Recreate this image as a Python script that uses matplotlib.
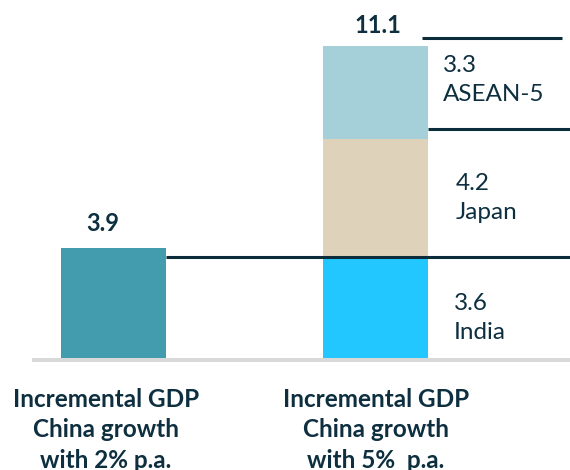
import matplotlib.pyplot as plt

plt.rcParams['font.family'] = ['Lato', 'DejaVu Sans']

# data
categories = ["Incremental GDP\nChina growth\nwith 2% p.a.",
              "Incremental GDP\nChina growth\nwith 5%  p.a."]
left_total = 3.9
regions = ["India", "Japan", "ASEAN-5"]
region_values = [3.6, 4.2, 3.3]
right_total = 11.1
separator_levels = [3.6, 8.15, 11.4]

teal = "#429cae"
region_colors = ["#22c7ff", "#dfd2bb", "#a5d0da"]
navy = "#0b2d3b"
text_col = "#0d2f3f"

fig = plt.figure(figsize=(5.7, 4.7), dpi=100)
ax = fig.add_axes([0, 0, 1, 1])
ax.set_xlim(-0.433, 1.742)
ax.set_ylim(-3.99, 12.74)
ax.axis("off")

w = 0.4
ax.bar(0, left_total, width=w, color=teal, zorder=2)

bottom = 0
for val, col in zip(region_values, region_colors):
    ax.bar(1, val, bottom=bottom, width=w, color=col, zorder=2)
    bottom += val

# baseline
ax.plot([-0.311, 1.742], [-0.07, -0.07], color="#d9d9d9", lw=2.9,
        solid_capstyle="butt", zorder=1)

# separator lines
ax.plot([w / 2, 1.742], [separator_levels[0]] * 2, color=navy, lw=2.2,
        solid_capstyle="butt", zorder=3)
ax.plot([1 + w / 2, 1.742], [separator_levels[1]] * 2, color=navy, lw=2.2,
        solid_capstyle="butt", zorder=3)
ax.plot([1.177, 1.712], [separator_levels[2]] * 2, color=navy, lw=2.2,
        solid_capstyle="butt", zorder=3)

# totals
ax.text(-0.04, left_total + 0.62, f"{left_total:.1f}", ha="center",
        va="baseline", fontsize=17, fontweight="bold", color=text_col)
ax.text(1.01, right_total + 0.47, f"{right_total:.1f}", ha="center",
        va="baseline", fontsize=17, fontweight="bold", color=text_col)

# segment labels
label_x = [1.30, 1.307, 1.258]
label_y = [1.42, 5.69, 9.89]
for name, val, lx, ly in zip(regions, region_values, label_x, label_y):
    ax.text(lx, ly, f"{val:.1f}\n{name}", ha="left", va="center",
            fontsize=17.5, color=text_col, linespacing=1.42)

# category labels
for xc, lab in zip([-0.029, 1.002], categories):
    ax.text(xc, -1.08, lab, ha="center", va="top", fontsize=17.5,
            fontweight="bold", color=text_col, linespacing=1.38)

plt.savefig("out.png", dpi=100)
